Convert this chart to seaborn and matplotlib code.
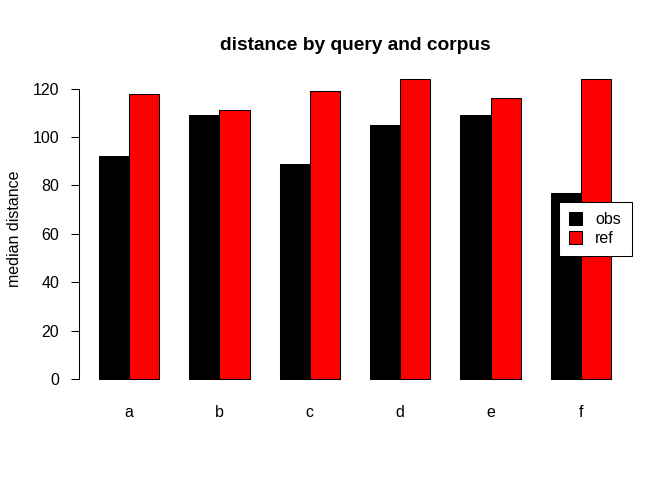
import pandas as pd
import matplotlib
matplotlib.use("Agg")
import matplotlib.pyplot as plt
import seaborn as sns

# Values
queries = ["a", "b", "c", "d", "e", "f"]
obs_values = [92, 109, 89, 105, 109, 77]
ref_values = [118, 111, 119, 124, 116, 124]
corpora = ["obs", "ref"]
y_ticks = [0, 20, 40, 60, 80, 100, 120]

df = pd.DataFrame({
    "query": queries * 2,
    "corpus": ["obs"] * len(queries) + ["ref"] * len(queries),
    "distance": obs_values + ref_values,
})

sns.set_style("white")
plt.rcParams['font.family'] = ['Liberation Sans', 'DejaVu Sans']
for key in ['text.color', 'axes.labelcolor', 'xtick.color', 'ytick.color']:
    plt.rcParams[key] = 'black'

fig = plt.figure(figsize=(6.72, 4.8), dpi=100)
ax = fig.add_axes([78.5 / 672, 89 / 480, 553 / 672, 324 / 480])

sns.barplot(data=df, x="query", y="distance", hue="corpus", hue_order=corpora,
            palette=["black", "#ff0000"], saturation=1, width=2 / 3,
            edgecolor="black", linewidth=0.75, errorbar=None, ax=ax)

ax.set_xlim(-0.56, 5.56)
ax.set_ylim(-4.96, 128.96)
ax.set_yticks(y_ticks)
ax.set_yticklabels([str(t) for t in y_ticks])

for s in ["top", "right", "bottom"]:
    ax.spines[s].set_visible(False)
ax.spines["left"].set_bounds(0, 120)
ax.spines["left"].set_color("black")
ax.spines["left"].set_linewidth(0.75)

ax.tick_params(axis="y", length=6, width=0.75, color="black", pad=8,
               labelsize=11.5, labelcolor="black", left=True, direction="out")
ax.tick_params(axis="x", length=0, pad=10, labelsize=11.5, labelcolor="black")

ax.set_xlabel("")
ax.set_ylabel("median distance", fontsize=11.5, color="black")
ax.yaxis.set_label_coords(-0.102, 0.5)
ax.set_title("distance by query and corpus", fontsize=13.8, fontweight="bold",
             pad=12, color="black")

leg = ax.legend(loc="center right", borderaxespad=0, fancybox=False,
                edgecolor="black", framealpha=1, fontsize=11.5,
                handlelength=0.8, handleheight=0.8, handletextpad=0.85,
                labelspacing=0.25, borderpad=0.65)
leg.get_frame().set_linewidth(0.75)
for t in leg.get_texts():
    t.set_color("black")

fig.savefig("out.png", dpi=100)
